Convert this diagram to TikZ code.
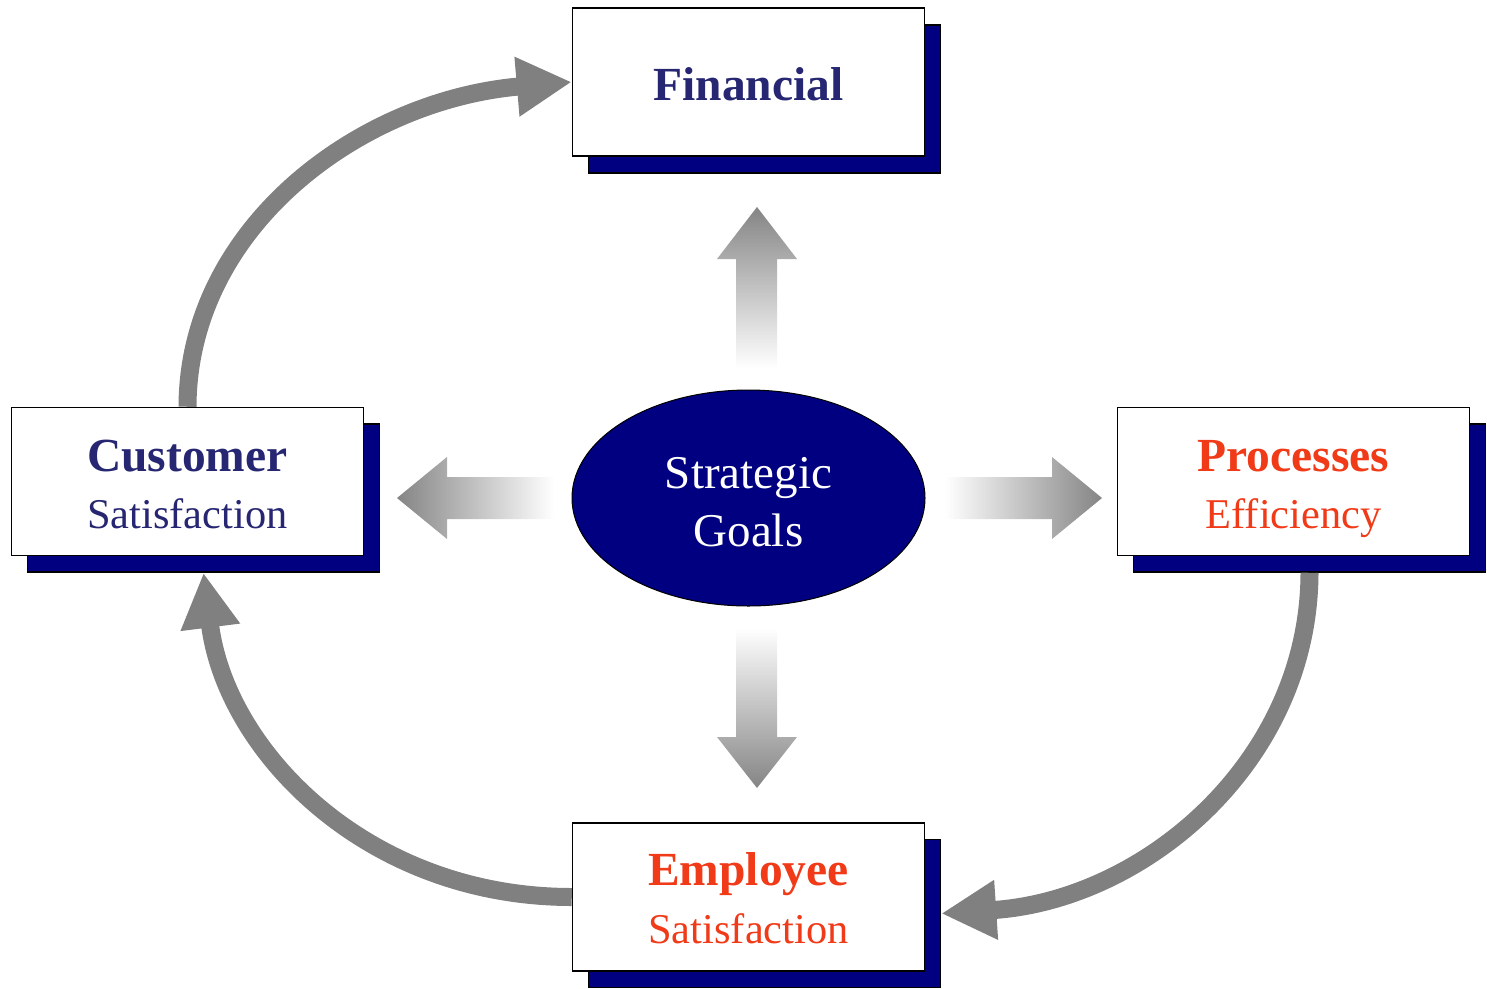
\documentclass[tikz,border=0pt]{standalone}
\usepackage{fontspec}
\setmainfont{Liberation Serif}
\usetikzlibrary{arrows.meta,shapes.geometric}
\definecolor{boxnavy}{RGB}{0,0,128}
\definecolor{textnavy}{RGB}{38,38,115}
\definecolor{textred}{RGB}{240,58,24}

\begin{document}
\begin{tikzpicture}[x=1pt,y=-1pt,
    card/.style={draw,fill=white,line width=1.5pt,minimum width=352pt,minimum height=148pt,inner sep=0pt},
    backcard/.style={card,fill=boxnavy},
    title/.style={anchor=base,font=\fontsize{47.5}{57}\selectfont\bfseries},
    sub/.style={anchor=base,font=\fontsize{42.4}{57}\selectfont},
    roundarrow/.style={draw=gray,line width=18pt,-{Triangle[length=55pt,width=56pt]}}]
  \useasboundingbox (0,0) rectangle (1487,988);

  % the four boxes, each with its navy shadow
  \node[backcard] (fin-sh) at (764.5,99) {};
  \node[card] (fin) at (748.5,82) {};
  \node[backcard] (cust-sh) at (203.5,498) {};
  \node[card] (cust) at (187.5,481.5) {};
  \node[backcard] (proc-sh) at (1309.5,498) {};
  \node[card] (proc) at (1293.5,481.5) {};
  \node[backcard] (emp-sh) at (764.5,913.5) {};
  \node[card] (emp) at (748.5,897) {};

  \node[title,textnavy] (fin-t) at (748.5,100) {Financial};
  \node[title,textnavy] (cust-t) at (187.5,471) {Customer};
  \node[sub,textnavy] (cust-s) at (187.5,528) {Satisfaction};
  \node[title,textred] (proc-t) at (1293.5,471) {Processes};
  \node[sub,textred] (proc-s) at (1293.5,528) {Efficiency};
  \node[title,textred] (emp-t) at (748.5,885) {Employee};
  \node[sub,textred] (emp-s) at (748.5,943) {Satisfaction};

  % centre
  \node[draw,ellipse,fill=boxnavy,line width=1pt,minimum width=353pt,minimum height=216pt] (goal) at (748.5,498) {};
  \node[text=white,anchor=base,font=\fontsize{47}{58}\selectfont] (goal-a) at (748.5,488) {Strategic};
  \node[text=white,anchor=base,font=\fontsize{47}{58}\selectfont] (goal-b) at (748.5,546) {Goals};

  % fading arrows out of the centre
  \shade[top color=black!48,bottom color=white] (736,368) -- (736,259) -- (717,259) -- (757,207)
    -- (797,259) -- (777,259) -- (777,368) -- cycle;
  \shade[top color=white,bottom color=black!48] (736,628) -- (736,737) -- (717,737) -- (757,788)
    -- (797,737) -- (777,737) -- (777,628) -- cycle;
  \shade[left color=black!48,right color=white] (554,477) -- (447,477) -- (447,457) -- (397,498)
    -- (447,539) -- (447,519) -- (554,519) -- cycle;
  \shade[left color=white,right color=black!48] (945,477) -- (1052,477) -- (1052,457) -- (1102,498)
    -- (1052,539) -- (1052,519) -- (945,519) -- cycle;

  % the loop round the boxes
  \draw[roundarrow] (cust.north) .. controls (188,227) and (360,100) .. (fin.west);
  \draw[roundarrow] (proc-sh.south) .. controls (1309,761) and (1145,900) .. (emp-sh.east);
  \draw[roundarrow] (emp.west) .. controls (368,897) and (226,752) .. (cust-sh.south);
\end{tikzpicture}
\end{document}
